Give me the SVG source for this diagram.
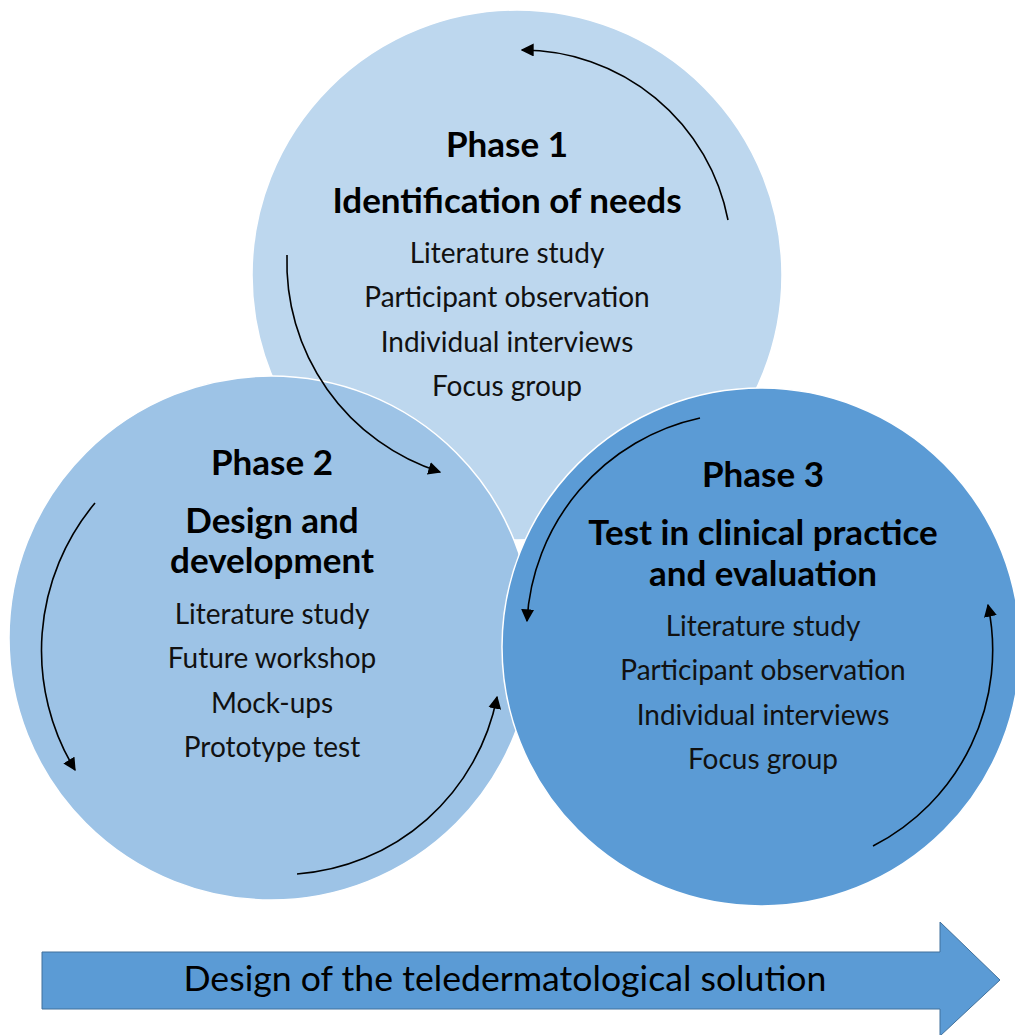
<svg xmlns="http://www.w3.org/2000/svg" width="1015" height="1035" viewBox="0 0 1015 1035">
  <defs>
    <style>
      .phase { stroke: #ffffff; stroke-width: 1.5; }
      .title { font-family: Lato, "Open Sans", sans-serif; font-weight: bold; font-size: 35px; fill: #000; text-anchor: middle; }
      .item { font-family: Lato, "Open Sans", sans-serif; font-size: 28px; fill: #111; text-anchor: middle; }
      .cycle { fill: none; stroke: #000; stroke-width: 1.6; marker-end: url(#head); }
    </style>
    <marker id="head" viewBox="0 0 10 10" refX="9" refY="5" markerWidth="13" markerHeight="13" markerUnits="userSpaceOnUse" orient="auto">
      <path d="M0,0 L10,5 L0,10 Z" fill="#000"/>
    </marker>
  </defs>

  <rect width="1015" height="1035" fill="#ffffff"/>

  <!-- Phase 1 -->
  <g id="phase1">
    <circle class="phase" cx="517" cy="275" r="265" fill="#BDD7EE"/>
    <text class="title" x="507" y="157">Phase 1</text>
    <text class="title" x="507" y="213">Identification of needs</text>
    <text class="item" x="507" y="263">Literature study</text>
    <text class="item" x="507" y="307">Participant observation</text>
    <text class="item" x="507" y="352">Individual interviews</text>
    <text class="item" x="507" y="396">Focus group</text>
  </g>

  <!-- Phase 2 -->
  <g id="phase2">
    <circle class="phase" cx="271" cy="638" r="262" fill="#9DC3E6"/>
    <text class="title" x="272" y="475">Phase 2</text>
    <text class="title" x="272" y="533">Design and</text>
    <text class="title" x="272" y="573">development</text>
    <text class="item" x="272" y="624">Literature study</text>
    <text class="item" x="272" y="668">Future workshop</text>
    <text class="item" x="272" y="713">Mock-ups</text>
    <text class="item" x="272" y="757">Prototype test</text>
  </g>

  <!-- Phase 3 -->
  <g id="phase3">
    <circle class="phase" cx="761" cy="647" r="259" fill="#5B9BD5"/>
    <text class="title" x="763" y="487">Phase 3</text>
    <text class="title" x="763" y="545">Test in clinical practice</text>
    <text class="title" x="763" y="586">and evaluation</text>
    <text class="item" x="763" y="636">Literature study</text>
    <text class="item" x="763" y="680">Participant observation</text>
    <text class="item" x="763" y="725">Individual interviews</text>
    <text class="item" x="763" y="769">Focus group</text>
  </g>

  <!-- Cycle arrows -->
  <g id="connectors">
    <path class="cycle" d="M728,220 A210,210 0 0 0 522,50"/>
    <path class="cycle" d="M287,255 A220,220 0 0 0 440,472"/>
    <path class="cycle" d="M95,503 A230,230 0 0 0 75,770"/>
    <path class="cycle" d="M297,874 A220,220 0 0 0 497,697"/>
    <path class="cycle" d="M700,418 A220,220 0 0 0 527,621"/>
    <path class="cycle" d="M873,846 A220,220 0 0 0 988,605"/>
  </g>

  <!-- Timeline arrow -->
  <g id="timeline">
    <path d="M42,952 L940,952 L940,922 L1000,980 L940,1036 L940,1009 L42,1009 Z" fill="#5B9BD5" stroke="#41719C" stroke-width="1"/>
    <text x="505" y="991" font-family="Lato, 'Open Sans', sans-serif" font-size="35" fill="#000" text-anchor="middle" textLength="643" lengthAdjust="spacingAndGlyphs">Design of the teledermatological solution</text>
  </g>
</svg>
